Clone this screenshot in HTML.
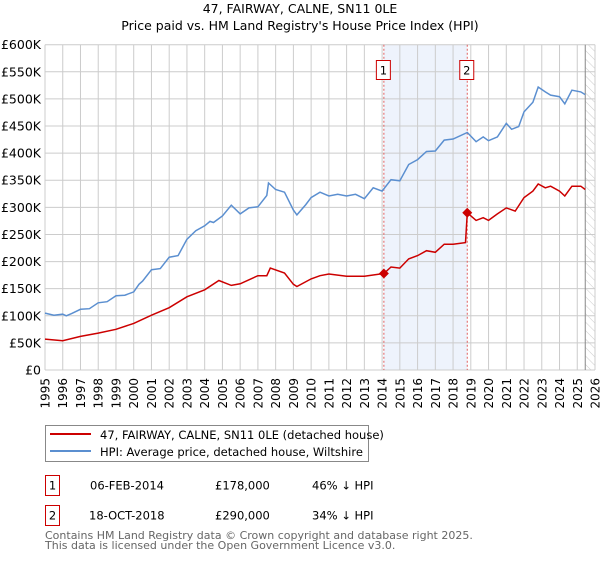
<!DOCTYPE html>
<html><head><meta charset="utf-8"><style>
body{margin:0;background:#fff;font-family:"Liberation Sans","DejaVu Sans",sans-serif}
svg text{font-family:"DejaVu Sans","Liberation Sans",sans-serif}
</style></head><body>
<svg id="c" width="600" height="560" xmlns="http://www.w3.org/2000/svg">
<defs><pattern id="hatch" width="6" height="6" patternUnits="userSpaceOnUse" patternTransform="rotate(-45)"><line x1="0" y1="0" x2="0" y2="6" stroke="#ccc" stroke-width="1"/></pattern></defs>
<text x="300" y="13" text-anchor="middle" font-size="12.5">47, FAIRWAY, CALNE, SN11 0LE</text>
<text x="300" y="30" text-anchor="middle" font-size="12.5">Price paid vs. HM Land Registry's House Price Index (HPI)</text>
<g id="plot"></g>
<g>
<rect x="45.5" y="425.5" width="323" height="36" fill="#fff" stroke="#888"/>
<line x1="50" y1="434" x2="91" y2="434" stroke="#cc0000" stroke-width="2"/>
<text x="100" y="439" font-size="11.5">47, FAIRWAY, CALNE, SN11 0LE (detached house)</text>
<line x1="50" y1="451" x2="91" y2="451" stroke="#5b8fd0" stroke-width="2"/>
<text x="100" y="456" font-size="11.5">HPI: Average price, detached house, Wiltshire</text>
</g>
<g font-size="11.5">
<rect x="45.5" y="475.5" width="14" height="20" fill="#fff" stroke="#cc0000"/>
<text x="52.5" y="489.5" text-anchor="middle">1</text>
<text x="90" y="489.5">06-FEB-2014</text><text x="215" y="489.5">£178,000</text><text x="312" y="489.5">46% ↓ HPI</text>
<rect x="45.5" y="505.5" width="14" height="20" fill="#fff" stroke="#cc0000"/>
<text x="52.5" y="519.5" text-anchor="middle">2</text>
<text x="89" y="519.5">18-OCT-2018</text><text x="215" y="519.5">£290,000</text><text x="312" y="519.5">34% ↓ HPI</text>
</g>
<text font-size="11" fill="#666"><tspan x="45" y="539">Contains HM Land Registry data © Crown copyright and database right 2025.</tspan><tspan x="45" y="549">This data is licensed under the Open Government Licence v3.0.</tspan></text>
</svg>
<script>
const hpiYears=[1995,1995.5,1996,1996.2,1996.5,1997,1997.5,1998,1998.5,1999,1999.5,2000,2000.3,2000.5,2001,2001.5,2002,2002.5,2003,2003.5,2004,2004.3,2004.5,2005,2005.5,2006,2006.5,2007,2007.5,2007.6,2008,2008.5,2009,2009.2,2009.7,2010,2010.5,2011,2011.5,2012,2012.5,2013,2013.5,2014,2014.5,2015,2015.5,2016,2016.5,2017,2017.5,2018,2018.8,2019.3,2019.7,2020,2020.5,2021,2021.3,2021.7,2022,2022.5,2022.8,2023.2,2023.5,2024,2024.3,2024.7,2025.2,2025.45];
const hpiValues=[105,101,103,100,104,112,113,124,126,137,138,144,158,164,185,187,208,211,241,257,266,274,272,284,304,288,299,301,322,345,333,328,295,286,305,318,328,321,324,321,324,316,336,330,351,349,379,388,403,404,424,426,438,421,430,423,430,455,444,449,476,494,522,513,507,504,491,516,513,508];
const priceYears=[1995,1996,1997,1998,1999,2000,2001,2002,2003,2004,2004.8,2005.5,2006,2007,2007.5,2007.7,2008.5,2009,2009.2,2010,2010.5,2011,2012,2013,2014.1,2014.5,2015,2015.5,2016,2016.5,2017,2017.5,2018,2018.7,2018.8,2019.3,2019.7,2020,2020.5,2021,2021.5,2022,2022.5,2022.8,2023.2,2023.5,2024,2024.3,2024.7,2025.2,2025.45];
const priceValues=[57,54,62,68,75,86,101,115,135,148,165,156,159,174,174,188,179,158,154,168,174,177,173,173,178,190,188,205,211,220,217,232,232,235,290,276,281,276,288,299,293,318,330,343,336,339,330,321,339,339,333];
const saleYears=[2014.1,2018.8];
const salePrices=[178,290];
const saleLabels=['1','2'];
const yTicks=[0,50,100,150,200,250,300,350,400,450,500,550,600];
const yTickLabels=['£0','£50K','£100K','£150K','£200K','£250K','£300K','£350K','£400K','£450K','£500K','£550K','£600K'];
const xTicks=[1995,1996,1997,1998,1999,2000,2001,2002,2003,2004,2005,2006,2007,2008,2009,2010,2011,2012,2013,2014,2015,2016,2017,2018,2019,2020,2021,2022,2023,2024,2025,2026];
const dataEnd=2025.45;

const X0=45,X1=595,Y0=370,Y1=44.7;
const x=v=>X0+(v-1995)/(2026-1995)*(X1-X0);
const y=v=>Y0-v/600*(Y0-Y1);
const NS='http://www.w3.org/2000/svg';
const g=document.getElementById('plot');
function mk(t,a,p){const e=document.createElementNS(NS,t);for(const k in a)e.setAttribute(k,a[k]);(p||g).appendChild(e);return e;}
const sh=mk('rect',{x:x(saleYears[0]),y:Y1,width:x(saleYears[1])-x(saleYears[0]),height:Y0-Y1,fill:'#eef3fc'});


const ht=mk('rect',{x:x(dataEnd),y:Y1,width:X1-x(dataEnd),height:Y0-Y1,fill:'url(#hatch)'});


yTicks.forEach((t,i)=>{
  const l=mk('line',{x1:X0,x2:X1,y1:y(t),y2:y(t),stroke:'#ccc','stroke-width':1});
  
  
  const tx=mk('text',{x:41,y:y(t)+4.5,'text-anchor':'end','font-size':12.5});
  
  
  tx.textContent=yTickLabels[i];
});
xTicks.forEach(t=>{
  const l=mk('line',{x1:x(t),x2:x(t),y1:Y1,y2:Y0,stroke:'#ccc','stroke-width':1});
  
  
  const tx=mk('text',{transform:`translate(${x(t)+4.5},378) rotate(-90)`,'text-anchor':'end','font-size':12});
  
  
  tx.textContent=t;
});
const de=mk('line',{x1:x(dataEnd),x2:x(dataEnd),y1:Y1,y2:Y0,stroke:'#888','stroke-width':1});


saleYears.forEach(s=>{
  const l=mk('line',{x1:x(s),x2:x(s),y1:Y1,y2:Y0,stroke:'#e06060','stroke-width':1,'stroke-dasharray':'2,2'});
  
  
});
function path(xs,vs){return xs.map((v,i)=>(i?'L':'M')+x(v).toFixed(1)+','+y(vs[i]).toFixed(1)).join('');}
const hp=mk('path',{d:path(hpiYears,hpiValues),fill:'none',stroke:'#5b8fd0','stroke-width':1.5});


const pp=mk('path',{d:path(priceYears,priceValues),fill:'none',stroke:'#cc0000','stroke-width':1.5});


saleYears.forEach((s,i)=>{
  const cx=x(s),cy=y(salePrices[i]);
  const d=mk('path',{d:`M${cx},${cy-5}L${cx+5},${cy}L${cx},${cy+5}L${cx-5},${cy}Z`,fill:'#cc0000'});
  
  
  const b=mk('rect',{x:cx-7.5,y:60.5,width:14,height:19,fill:'#fff',stroke:'#cc0000'});
  
  
  const t=mk('text',{x:cx-0.5,y:74.5,'text-anchor':'middle','font-size':11.5});
  
  
  t.textContent=saleLabels[i];
});
</script>
</body></html>
